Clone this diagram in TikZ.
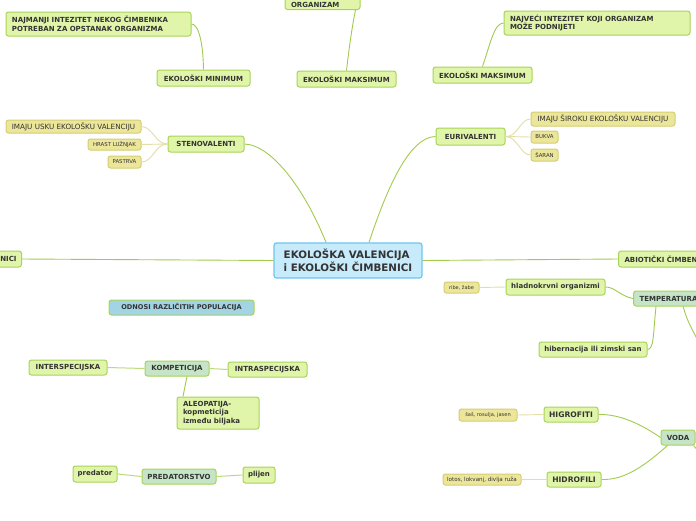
\documentclass[tikz,border=0pt]{standalone}
\usepackage{fontspec}
\setmainfont{DejaVu Sans}
\definecolor{gfill}{HTML}{E0F5A9}
\definecolor{gline}{HTML}{A8D35A}
\definecolor{yfill}{HTML}{ECE69B}
\definecolor{yline}{HTML}{D4CE72}
\definecolor{cfill}{HTML}{C8EBFB}
\definecolor{cline}{HTML}{6CC5EE}
\definecolor{tfill}{HTML}{C5E5C6}
\definecolor{ofill}{HTML}{A2D4E3}
\definecolor{txt}{HTML}{333333}
\definecolor{cgreen}{HTML}{A2CB4E}
\definecolor{clight}{HTML}{BCDB7A}
\definecolor{cyel}{HTML}{E2DEA6}
\begin{document}
\begin{tikzpicture}[x=1pt,y=-1pt,
  box/.style={draw, rounded corners=2.5pt, line width=1pt, inner sep=0pt, text=txt},
  gbox/.style={box, fill=gfill, draw=gline, font=\fontsize{7}{8.8}\selectfont\bfseries},
  ybox/.style={box, fill=yfill, draw=yline, font=\fontsize{5.4}{6.5}\selectfont},
  ybig/.style={box, fill=yfill, draw=yline, font=\fontsize{7.2}{8.6}\selectfont},
  tbox/.style={box, fill=tfill, draw=gline, font=\fontsize{7}{8.6}\selectfont\bfseries},
  obox/.style={box, fill=ofill, draw=gline, font=\fontsize{6.6}{8}\selectfont\bfseries},
  cbox/.style={box, fill=cfill, draw=cline, line width=1.2pt, font=\fontsize{10.3}{11.5}\selectfont\bfseries},
  conn/.style={draw=cgreen, line width=0.9pt},
  lconn/.style={draw=clight, line width=1pt},
  yconn/.style={draw=cyel, line width=0.9pt}]
\useasboundingbox (0,0) rectangle (696,520);
\clip (0,0) rectangle (696,520);
\fill[white] (0,0) rectangle (696,520);

% nodes
\node[cbox, minimum width=148pt, minimum height=35pt, align=left] (c) at (348,260.5) {EKOLOŠKA VALENCIJA\\i EKOLOŠKI ČIMBENICI};
\node[gbox, minimum width=185pt, minimum height=24pt, text width=173pt, align=left] (najmanji) at (98.5,24) {NAJMANJI INTEZITET NEKOG ČIMBENIKA\\POTREBAN ZA OPSTANAK ORGANIZMA};
\node[gbox, minimum width=93pt, minimum height=16pt] (min) at (203.5,78) {EKOLOŠKI MINIMUM};
\node[gbox, anchor=south, minimum width=75pt, text width=63pt, align=left, inner ysep=2pt] (org) at (322.5,10) {~\\ORGANIZAM};
\node[gbox, minimum width=99pt, minimum height=16pt] (maxm) at (346.5,79) {EKOLOŠKI MAKSIMUM};
\node[gbox, minimum width=186pt, minimum height=24pt, text width=174pt, align=left] (najveci) at (597,23) {NAJVEĆI INTEZITET KOJI ORGANIZAM\\MOŽE PODNIJETI};
\node[gbox, minimum width=99pt, minimum height=16pt] (maxr) at (482.5,75) {EKOLOŠKI MAKSIMUM};
\node[gbox, minimum width=76pt, minimum height=16pt] (steno) at (206,144) {STENOVALENTI};
\node[ybig, minimum width=135pt, minimum height=13pt] (usku) at (73.5,126.5) {IMAJU USKU EKOLOŠKU VALENCIJU};
\node[ybox, minimum width=53pt, minimum height=11pt] (hrast) at (114.5,144.5) {HRAST LUŽNJAK};
\node[ybox, minimum width=33pt, minimum height=12pt] (pastrva) at (124.5,162) {PASTRVA};
\node[gbox, minimum width=69pt, minimum height=17pt] (euri) at (470.5,136.5) {EURIVALENTI};
\node[ybig, minimum width=144pt, minimum height=14pt] (siroku) at (603,119) {IMAJU ŠIROKU EKOLOŠKU VALENCIJU};
\node[ybox, minimum width=27pt, minimum height=12pt] (bukva) at (544.5,137) {BUKVA};
\node[ybox, minimum width=27pt, minimum height=12pt] (saran) at (544.5,155) {ŠARAN};
\node[gbox, anchor=east, minimum height=16pt, text width=60pt, align=right, inner xsep=5pt] (nici) at (22,259) {NICI};
\node[obox, minimum width=145pt, minimum height=15pt] (odnosi) at (181.5,307.5) {ODNOSI RAZLIČITIH POPULACIJA};
\node[gbox, anchor=west, minimum height=16pt, inner xsep=6pt] (abio) at (618,259) {ABIOTIČKI ČIMBENICI};
\node[gbox, minimum width=99pt, minimum height=16pt] (hlad) at (555.5,287) {hladnokrvni organizmi};
\node[ybox, minimum width=35pt, minimum height=11pt, font=\fontsize{5}{6}\selectfont] (ribe) at (461.5,287.5) {ribe, žabe};
\node[tbox, anchor=west, minimum height=15pt, inner xsep=6pt] (temp) at (633,298.5) {TEMPERATURA};
\node[gbox, minimum width=108pt, minimum height=15pt] (hib) at (593,349.5) {hibernacija ili zimski san};
\node[tbox, minimum width=64pt, minimum height=15pt] (komp) at (177,368.5) {KOMPETICIJA};
\node[gbox, minimum width=78pt, minimum height=15pt] (inter) at (68,367.5) {INTERSPECIJSKA};
\node[gbox, minimum width=79pt, minimum height=15pt] (intra) at (267.5,369.5) {INTRASPECIJSKA};
\node[gbox, minimum width=82pt, minimum height=32pt, text width=70pt, align=left] (aleo) at (218,413) {ALEOPATIJA-\\kopmeticija\\između biljaka};
\node[tbox, minimum width=74pt, minimum height=15pt] (pred) at (179,476.5) {PREDATORSTVO};
\node[gbox, minimum width=44pt, minimum height=16pt] (predator) at (95,474) {predator};
\node[gbox, minimum width=32pt, minimum height=16pt] (plijen) at (259,475) {plijen};
\node[gbox, minimum width=54pt, minimum height=15pt, font=\fontsize{7.6}{9}\selectfont\bfseries] (higro) at (571,414.5) {HIGROFITI};
\node[ybox, minimum width=58pt, minimum height=12pt, font=\fontsize{5.1}{6}\selectfont] (sas) at (488,415) {šaš, rosulja, jasen};
\node[tbox, minimum width=34pt, minimum height=15pt] (voda) at (678,437.5) {VODA};
\node[gbox, minimum width=54pt, minimum height=15pt, font=\fontsize{7.6}{9}\selectfont\bfseries] (hidro) at (574,479.5) {HIDROFILI};
\node[ybox, minimum width=78pt, minimum height=11pt, font=\fontsize{5.6}{6.5}\selectfont] (lotos) at (482,479.5) {lotos, lokvanj, divlja ruža};
\coordinate (tempout) at (702,348);
\coordinate (vodaout) at (706,460);

% connectors
\draw[conn] ([xshift=-22pt]c.north) .. controls (305,190) and (272,145) .. (steno.east);
\draw[conn] ([xshift=21pt]c.north) .. controls (388,185) and (410,137) .. (euri.west);
\draw[conn] (c.west) -- (nici.east);
\draw[conn] (c.east) -- (abio.west);
\draw[conn] (min.north) .. controls (203,40) and (198,24) .. (najmanji.east);
\draw[conn] (maxm.north) .. controls (350,40) and (353,22) .. ([xshift=33pt]org.south);
\draw[conn] (maxr.north) .. controls (490,45) and (494,23) .. (najveci.west);
\draw[yconn] (steno.west) .. controls (155,144) and (153,127) .. (usku.east);
\draw[yconn] (steno.west) -- (hrast.east);
\draw[yconn] (steno.west) .. controls (155,144) and (153,162) .. (pastrva.east);
\draw[yconn] (euri.east) .. controls (518,137) and (520,119) .. (siroku.west);
\draw[yconn] (euri.east) -- (bukva.west);
\draw[yconn] (euri.east) .. controls (518,137) and (520,155) .. (saran.west);
\draw[yconn] (hlad.west) -- (ribe.east);
\draw[conn] (temp.west) .. controls (620,296) and (615,287) .. (hlad.east);
\draw[conn] ([xshift=23pt]temp.south west) .. controls (653,335) and (654,349) .. (hib.east);
\draw[conn] ([xshift=50pt]temp.south west) .. controls (688,322) .. (tempout);
\draw[lconn] (komp.west) -- (inter.east);
\draw[lconn] (komp.east) -- (intra.west);
\draw[conn] ([xshift=10pt]komp.south) -- ([xshift=-35pt]aleo.north);
\draw[lconn] (pred.west) -- (predator.east);
\draw[lconn] (pred.east) -- (plijen.west);
\draw[conn] (voda.west) .. controls (635,420) and (615,414) .. (higro.east);
\draw[conn] ([xshift=7pt]voda.south west) .. controls (640,470) and (622,480) .. (hidro.east);
\draw[conn] ([xshift=33pt]voda.south west) -- (vodaout);
\draw[yconn] (higro.west) -- (sas.east);
\draw[yconn] (hidro.west) -- (lotos.east);
\end{tikzpicture}
\end{document}
